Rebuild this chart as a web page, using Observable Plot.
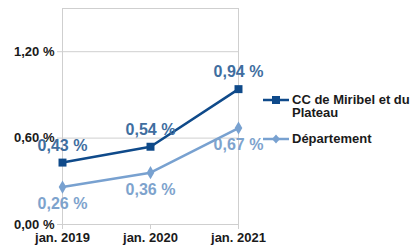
<!DOCTYPE html>
<html><head><meta charset="utf-8">
<script src="https://cdn.jsdelivr.net/npm/d3@7"></script>
<script src="https://cdn.jsdelivr.net/npm/@observablehq/plot@0.6"></script>
<style>
body{margin:0;background:#fff;font-family:"Liberation Sans",Arial,sans-serif;}
#wrap{position:relative;width:411px;height:250px;}
#chart{position:absolute;left:0;top:0;}
#legend{position:absolute;left:262px;top:93px;font-weight:bold;font-size:13px;line-height:13px;color:#1a1a1a;}
.item{display:flex;align-items:flex-start;margin-bottom:13px;}
.item svg{flex:none;margin-right:2px;}
</style></head>
<body><div id="wrap"><div id="chart"></div><div id="legend"></div></div>
<script>
const categories = ["jan. 2019", "jan. 2020", "jan. 2021"];
const ccValues = [0.43, 0.54, 0.94];
const deptValues = [0.26, 0.36, 0.67];
const yTicks = [0, 0.6, 1.2];
const seriesNames = ["CC de Miribel et du Plateau", "Département"];

const fmt = d => d.toFixed(2).replace(".", ",") + " %";
const cc = categories.map((c, i) => ({cat: c, v: ccValues[i]}));
const dept = categories.map((c, i) => ({cat: c, v: deptValues[i]}));

const ccColor = "#0f4a8a", deptColor = "#78a1d0";
const ccLabel = "#3f6e9f", deptLabel = "#7ea3cd";

const plot = Plot.plot({
  width: 411, height: 250,
  marginLeft: 62, marginRight: 173, marginTop: 8, marginBottom: 26,
  style: {fontFamily: "Liberation Sans, Arial, sans-serif", fontWeight: "bold", fontSize: "13px", color: "#1a1a1a", background: "#fff"},
  x: {type: "point", domain: categories, padding: 0, label: null},
  y: {domain: [0, 1.5], label: null},
  marks: [
    Plot.gridY(yTicks, {stroke: "#cfcfcf", strokeOpacity: 1, strokeWidth: 1}),
    Plot.frame({stroke: "#cfcfcf"}),
    Plot.axisY({ticks: yTicks, tickFormat: fmt, tickSize: 5, tickPadding: 3, stroke: "#cfcfcf", fontSize: 13}),
    Plot.axisX({tickSize: 5, tickPadding: 3, stroke: "#cfcfcf", fontSize: 13}),
    Plot.line(dept, {x: "cat", y: "v", stroke: deptColor, strokeWidth: 2.5}),
    Plot.dot(dept, {x: "cat", y: "v", symbol: "diamond", fill: deptColor, r: 4}),
    Plot.line(cc, {x: "cat", y: "v", stroke: ccColor, strokeWidth: 2.5}),
    Plot.dot(cc, {x: "cat", y: "v", symbol: "square", fill: ccColor, r: 4.5}),
    Plot.text(cc, {x: "cat", y: "v", text: d => fmt(d.v), dy: -17, fill: ccLabel, fontSize: 16, fontWeight: "bold"}),
    Plot.text(dept, {x: "cat", y: "v", text: d => fmt(d.v), dy: 17, fill: deptLabel, fontSize: 16, fontWeight: "bold"})
  ]
});
document.getElementById("chart").appendChild(plot);

const legend = document.getElementById("legend");
const icons = [
  `<svg width="28" height="13"><line x1="1" x2="27" y1="7" y2="7" stroke="${ccColor}" stroke-width="2.5"/><rect x="10" y="3" width="8" height="8" fill="${ccColor}"/></svg>`,
  `<svg width="28" height="13"><line x1="1" x2="27" y1="7" y2="7" stroke="${deptColor}" stroke-width="2.5"/><path d="M14 2.5 L18 7 L14 11.5 L10 7 Z" fill="${deptColor}"/></svg>`
];
const texts = ["CC de Miribel et du<br>Plateau", seriesNames[1]];
legend.innerHTML = texts.map((t, i) => `<div class="item">${icons[i]}<div>${t}</div></div>`).join("");
</script></body></html>
